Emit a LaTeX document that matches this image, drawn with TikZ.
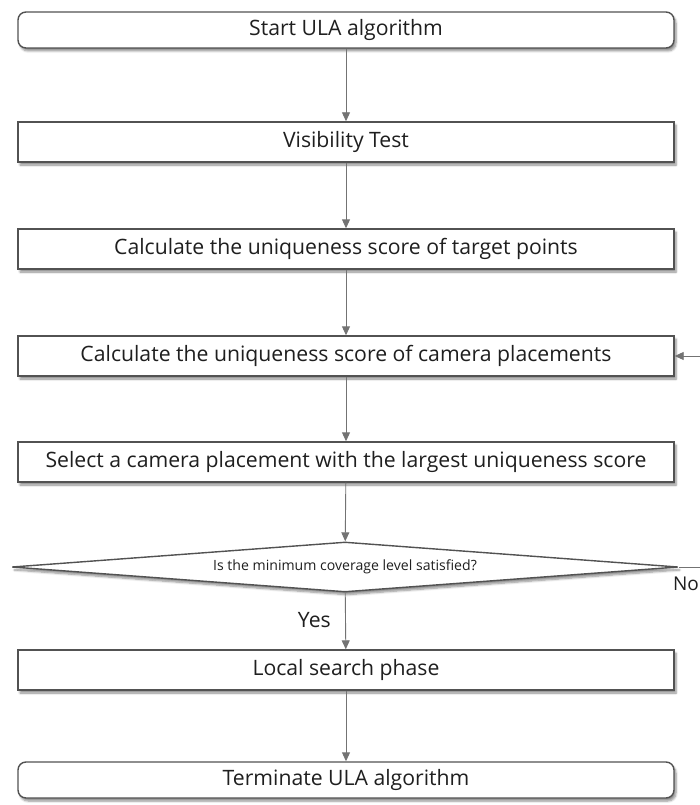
\documentclass[tikz,border=0pt]{standalone}
\usepackage{fontspec}
\setmainfont{Open Sans}
\usetikzlibrary{arrows.meta,shadows.blur,shapes.geometric}
\tikzset{
  boxshadow/.style={blur shadow={shadow xshift=2pt, shadow yshift=-3pt, shadow blur steps=6, shadow opacity=45}},
  stepbox/.style={draw=black!68, line width=1.4pt, fill=white, minimum width=656pt, minimum height=40pt,
    inner sep=0pt, font=\fontsize{21.2}{25}\selectfont, text=black!88, boxshadow},
  termbox/.style={stepbox, rounded corners=8pt, minimum height=36pt},
  decbox/.style={draw=black!68, line width=1.4pt, fill=white, diamond, inner sep=0pt,
    minimum width=666pt, minimum height=50pt, boxshadow},
  dectext/.style={font=\fontsize{14.1}{17}\selectfont, text=black!88},
  lbl/.style={font=\fontsize{21.2}{25}\selectfont, text=black!88, inner sep=0pt},
  conn/.style={draw=black!55, line width=0.9pt, -{Triangle[length=9pt,width=8pt]}},
}
\begin{document}
\begin{tikzpicture}[x=1pt,y=-1pt]
\useasboundingbox (0,0) rectangle (700,805);
\begin{scope}
\clip (0,0) rectangle (700,805);
\node[termbox] (start) at (346,30) {Start ULA algorithm};
\node[stepbox] (vis) at (346,142) {Visibility Test};
\node[stepbox] (tgt) at (346,249) {Calculate the uniqueness score of target points};
\node[stepbox] (cam) at (346,356) {Calculate the uniqueness score of camera placements};
\node[stepbox] (sel) at (346,462) {Select a camera placement with the largest uniqueness score};
\node[decbox] (dec) at (345,567) {};
\node[dectext] (dectxt) at (dec.center) {Is the minimum coverage level satisfied?};
\node[stepbox] (loc) at (346,670) {Local search phase};
\node[termbox] (term) at (346,780) {Terminate ULA algorithm};
\draw[conn] (start) -- (vis);
\draw[conn] (vis) -- (tgt);
\draw[conn] (tgt) -- (cam);
\draw[conn] (cam) -- (sel);
\draw[conn] (sel) -- (dec);
\draw[conn] (dec) -- (loc);
\draw[conn] (loc) -- (term);
\draw[conn] (dec.east) -- (740,567) |- (cam.east);
\end{scope}
\node[lbl, anchor=east] (yes) at (331,620) {Yes};
\node[lbl, anchor=east, font=\fontsize{19}{22}\selectfont] (no) at (699,584) {No};
\end{tikzpicture}
\end{document}
